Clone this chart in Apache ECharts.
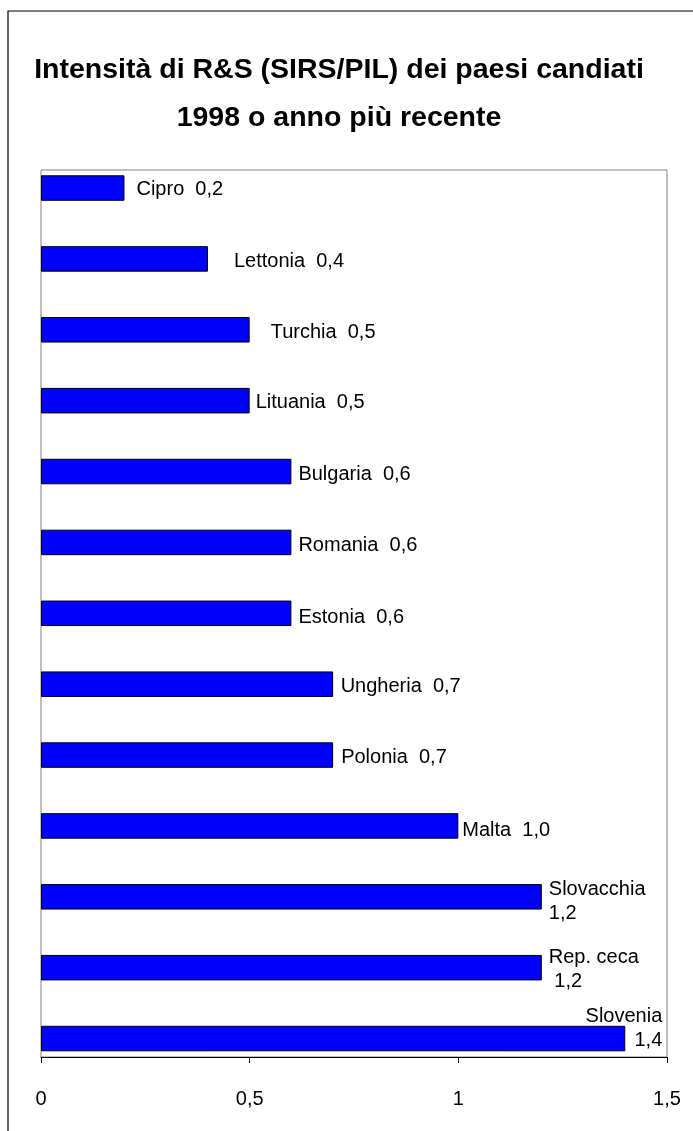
<!DOCTYPE html>
<html>
<head>
<meta charset="utf-8">
<script src="https://cdn.jsdelivr.net/npm/echarts@6/dist/echarts.min.js"></script>
<style>
html,body{margin:0;padding:0;background:#fff;}
#chart{width:693px;height:1131px;}
</style>
</head>
<body>
<div id="chart"></div>
<script>
// ---- data ----
const titleText = 'Intensità di R&S (SIRS/PIL) dei paesi candiati\n1998 o anno più recente';
const categories = ['Cipro','Lettonia','Turchia','Lituania','Bulgaria','Romania','Estonia','Ungheria','Polonia','Malta','Slovacchia','Rep. ceca','Slovenia'];
const values = [0.2, 0.4, 0.5, 0.5, 0.6, 0.6, 0.6, 0.7, 0.7, 1.0, 1.2, 1.2, 1.4];
const labelSeparators = ['  ','  ','  ','  ','  ','  ','  ','  ','  ','  ','\n','\n ','\n'];
const xTicks = [0, 0.5, 1, 1.5];

// ---- label layout (style only) ----
const labelLayout = [
  {offset:[12,1.5]},
  {offset:[26,3]},
  {offset:[21,2.5]},
  {offset:[6,1.5]},
  {offset:[7,3]},
  {offset:[7,3.5]},
  {offset:[7,4]},
  {offset:[7.5,2]},
  {offset:[8,2.5]},
  {offset:[4,4.5]},
  {offset:[7,5]},
  {offset:[7,2]},
  {offset:[37,-10], align:'right'}
];

const fmt = v => String(v.toFixed(1)).replace('.', ',');
const fmtTick = v => String(v).replace('.', ',');
const FONT = '"Liberation Sans", Arial, sans-serif';

const seriesData = values.map((v, i) => ({
  value: v,
  label: Object.assign({}, labelLayout[i])
}));

const chart = echarts.init(document.getElementById('chart'), null, {renderer:'canvas'});
chart.setOption({
  animation: false,
  backgroundColor: '#ffffff',
  title: {
    text: titleText,
    left: 339,
    top: 46,
    padding: 0,
    textAlign: 'center',
    textStyle: {
      fontFamily: FONT,
      fontWeight: 'bold',
      fontSize: 28.5,
      lineHeight: 48,
      color: '#000'
    }
  },
  graphic: [{
    type: 'rect',
    shape: {x: 8, y: 11, width: 720, height: 1200},
    style: {fill: 'none', stroke: '#000', lineWidth: 1.2},
    silent: true,
    z: -10
  }],
  grid: [
    {left: 41, right: 26, top: 152.6, bottom: 57, containLabel: false},
    {left: 41, right: 26, top: 170, bottom: 74, show: true, borderColor: '#808080', borderWidth: 1, backgroundColor: 'transparent', containLabel: false}
  ],
  xAxis: [
    {
      type: 'value', gridIndex: 0, min: 0, max: 1.5, interval: 0.5,
      offset: -17, z: 5,
      axisLine: {show: true, lineStyle: {color: '#000', width: 1}},
      axisTick: {show: true, length: 6, lineStyle: {color: '#000'}},
      axisLabel: {
        margin: 32, fontSize: 20, lineHeight: 20, fontFamily: FONT, color: '#000',
        formatter: v => xTicks.indexOf(v) >= 0 ? fmtTick(v) : ''
      },
      splitLine: {show: false}
    },
    {type: 'value', gridIndex: 1, show: false, min: 0, max: 1.5}
  ],
  yAxis: [
    {
      type: 'category', gridIndex: 0, data: categories, inverse: true,
      axisLine: {show: false}, axisTick: {show: false}, axisLabel: {show: false},
      splitLine: {show: false}
    },
    {type: 'category', gridIndex: 1, show: false, data: categories}
  ],
  series: [{
    type: 'bar',
    xAxisIndex: 0, yAxisIndex: 0,
    data: seriesData,
    barWidth: 25.5,
    itemStyle: {color: '#0000ff', borderColor: '#000', borderWidth: 1},
    label: {
      show: true,
      position: 'right',
      distance: 0,
      fontFamily: FONT,
      fontSize: 20,
      lineHeight: 24,
      color: '#000',
      formatter: p => categories[p.dataIndex] + labelSeparators[p.dataIndex] + fmt(values[p.dataIndex])
    }
  }]
});
</script>
</body>
</html>
